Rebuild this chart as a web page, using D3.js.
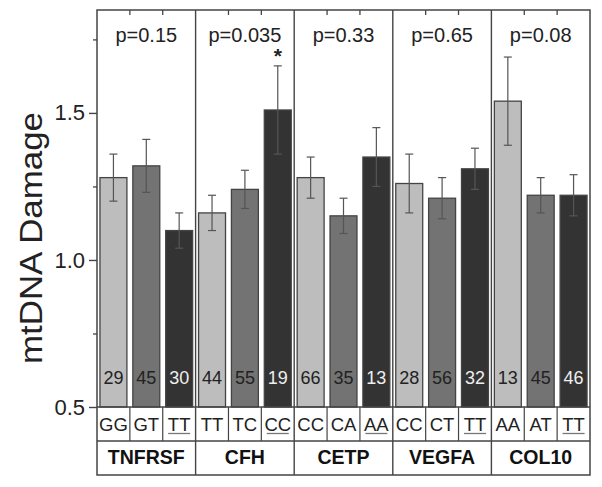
<!DOCTYPE html>
<html><head><meta charset="utf-8">
<script src="https://cdn.jsdelivr.net/npm/d3@7"></script>
<style>body{margin:0;background:#fff}svg{display:block}text{font-family:Arial,"Liberation Sans",sans-serif}</style>
</head><body>
<script>
const genes = ["TNFRSF","CFH","CETP","VEGFA","COL10"];
const pValues = ["p=0.15","p=0.035","p=0.33","p=0.65","p=0.08"];
const genotypes = [["GG","GT","TT"],["TT","TC","CC"],["CC","CA","AA"],["CC","CT","TT"],["AA","AT","TT"]];
const means = [[1.28,1.32,1.10],[1.16,1.24,1.51],[1.28,1.15,1.35],[1.26,1.21,1.31],[1.54,1.22,1.22]];
const errors = [[0.08,0.09,0.06],[0.06,0.065,0.15],[0.07,0.06,0.10],[0.10,0.07,0.07],[0.15,0.06,0.07]];
const counts = [[29,45,30],[44,55,19],[66,35,13],[28,56,32],[13,45,46]];
const starred = [[false,false,false],[false,false,true],[false,false,false],[false,false,false],[false,false,false]];
const yTicks = [0.5,1.0,1.5];
const yMinor = [0.75,1.25,1.75];
const fills = ["#bdbdbd","#737373","#333333"];

const W=602,H=487, L=97, R=590, T=10, B=407, rowH=34;
const svg=d3.select("body").append("svg").attr("width",W).attr("height",H);
const y=d3.scaleLinear().domain([0.5,1.85]).range([B,T]);
const gx=d3.scaleBand().domain(genes).range([L,R]).padding(0);
const bx=d3.scaleBand().domain([0,1,2]).range([0,gx.bandwidth()]).paddingInner(0.18).paddingOuter(0.09);
const slot=d3.scaleBand().domain([0,1,2]).range([0,gx.bandwidth()]).padding(0);

const data=[];
genes.forEach((g,i)=>genotypes[i].forEach((gt,j)=>data.push({g,i,j,gt,m:means[i][j],e:errors[i][j],n:counts[i][j],s:starred[i][j]})));

// bars
svg.selectAll("rect.bar").data(data).enter().append("rect")
 .attr("x",d=>gx(d.g)+bx(d.j)).attr("width",bx.bandwidth())
 .attr("y",d=>y(d.m)).attr("height",d=>B-y(d.m))
 .attr("fill",d=>fills[d.j]).attr("stroke","#444").attr("stroke-width",1.3);
// error bars
const cx=d=>gx(d.g)+bx(d.j)+bx.bandwidth()/2;
const eb=svg.append("g").attr("stroke","#555").attr("stroke-width",1.2);
eb.selectAll("line.v").data(data).enter().append("line").attr("x1",cx).attr("x2",cx).attr("y1",d=>y(d.m+d.e)).attr("y2",d=>y(d.m-d.e));
eb.selectAll("line.t").data(data).enter().append("line").attr("x1",d=>cx(d)-4).attr("x2",d=>cx(d)+4).attr("y1",d=>y(d.m+d.e)).attr("y2",d=>y(d.m+d.e));
eb.selectAll("line.b").data(data).enter().append("line").attr("x1",d=>cx(d)-4).attr("x2",d=>cx(d)+4).attr("y1",d=>y(d.m-d.e)).attr("y2",d=>y(d.m-d.e));
// star
svg.selectAll("text.star").data(data.filter(d=>d.s)).enter().append("text")
 .attr("x",cx).attr("y",d=>y(d.m+d.e)-3).attr("text-anchor","middle").attr("font-size",21).attr("font-weight","bold").attr("fill","#222").text("*");
// counts
svg.selectAll("text.n").data(data).enter().append("text")
 .attr("x",cx).attr("y",384).attr("text-anchor","middle").attr("font-size",18)
 .attr("fill",d=>d.j===2?"#eee":"#222").text(d=>d.n);
// p values
svg.selectAll("text.p").data(genes).enter().append("text")
 .attr("x",g=>gx(g)+gx.bandwidth()/2).attr("y",42).attr("text-anchor","middle").attr("font-size",20).attr("fill","#222")
 .text((g,i)=>pValues[i]);

// table: genotype row
const tb=svg.append("g");
tb.selectAll("text.gt").data(data).enter().append("text")
 .attr("x",d=>gx(d.g)+slot(d.j)+slot.bandwidth()/2).attr("y",431).attr("text-anchor","middle").attr("font-size",18.5).attr("fill","#222")
 .text(d=>d.gt);
tb.selectAll("line.ul").data(data.filter(d=>d.j===2)).enter().append("line")
 .attr("x1",d=>gx(d.g)+slot(d.j)+slot.bandwidth()/2-11).attr("x2",d=>gx(d.g)+slot(d.j)+slot.bandwidth()/2+11)
 .attr("y1",433.5).attr("y2",433.5).attr("stroke","#777").attr("stroke-width",1.3);
tb.selectAll("line.sd").data(data.filter(d=>d.j>0)).enter().append("line")
 .attr("x1",d=>gx(d.g)+slot(d.j)).attr("x2",d=>gx(d.g)+slot(d.j)).attr("y1",B).attr("y2",B+rowH).attr("stroke","#444").attr("stroke-width",1.2);
tb.selectAll("text.gene").data(genes).enter().append("text")
 .attr("x",g=>gx(g)+gx.bandwidth()/2).attr("y",464).attr("text-anchor","middle").attr("font-size",19.5).attr("font-weight","bold").attr("fill","#111")
 .text(g=>g);
tb.append("line").attr("x1",L).attr("x2",R).attr("y1",B).attr("y2",B).attr("stroke","#444").attr("stroke-width",1.4);
tb.append("line").attr("x1",L).attr("x2",R).attr("y1",B+rowH).attr("y2",B+rowH).attr("stroke","#444").attr("stroke-width",1.4);
// group dividers
svg.selectAll("line.gd").data(genes.slice(1)).enter().append("line")
 .attr("x1",g=>gx(g)).attr("x2",g=>gx(g)).attr("y1",T).attr("y2",B+2*rowH).attr("stroke","#444").attr("stroke-width",1.4);
// outer frame
svg.append("rect").attr("x",L).attr("y",T).attr("width",R-L).attr("height",B+2*rowH-T).attr("fill","none").attr("stroke","#444").attr("stroke-width",1.5);
// top inward ticks between bars
svg.selectAll("line.tt").data(data.filter(d=>d.j>0)).enter().append("line")
 .attr("x1",d=>gx(d.g)+slot(d.j)).attr("x2",d=>gx(d.g)+slot(d.j)).attr("y1",T).attr("y2",T+5).attr("stroke","#444").attr("stroke-width",1.3);

// y axis
const ya=svg.append("g").attr("transform",`translate(${L},0)`)
 .call(d3.axisLeft(y).tickValues(yTicks).tickFormat(d3.format(".1f")).tickSize(8).tickPadding(4));
ya.select(".domain").remove();
ya.selectAll("text").attr("font-size",22).attr("fill","#222").attr("font-family","Arial, 'Liberation Sans', sans-serif");
ya.selectAll("line").attr("stroke","#444").attr("stroke-width",1.4);
const ym=svg.append("g").attr("transform",`translate(${L},0)`)
 .call(d3.axisLeft(y).tickValues(yMinor).tickFormat("").tickSize(4));
ym.select(".domain").remove();
ym.selectAll("line").attr("stroke","#444").attr("stroke-width",1.3);

svg.append("text").attr("transform",`translate(42,238) rotate(-90)`).attr("text-anchor","middle")
 .attr("font-size",31).attr("textLength",252).attr("lengthAdjust","spacingAndGlyphs").attr("fill","#222").text("mtDNA Damage");
</script>
</body></html>
